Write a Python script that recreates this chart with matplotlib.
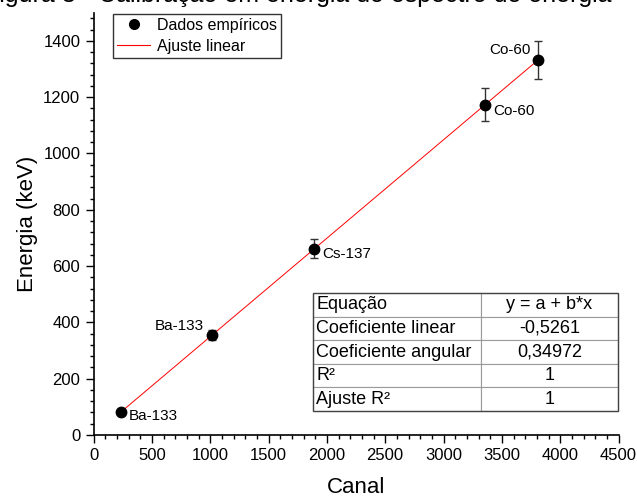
import numpy as np
import matplotlib.pyplot as plt
from matplotlib.lines import Line2D
from matplotlib.patches import Rectangle
from matplotlib.ticker import MultipleLocator

plt.rcParams["font.family"] = ["Liberation Sans", "DejaVu Sans"]

# data (channel vs energy)
fontes = ["Ba-133", "Ba-133", "Cs-137", "Co-60", "Co-60"]
canal = [233, 1019, 1894, 3356, 3810]
energia = [81, 356, 662, 1173, 1332]
erro = [4, 18, 33, 59, 67]

coef_linear = -0.5261
coef_angular = 0.34972

tabela = [
    ["Equação", "y = a + b*x"],
    ["Coeficiente linear", "-0,5261"],
    ["Coeficiente angular", "0,34972"],
    ["R²", "1"],
    ["Ajuste R²", "1"],
]

# label offsets in points (dx, dy, ha)
rotulos = [(6, -2.5, "left"), (-6, 6, "right"), (5.5, -4, "left"),
           (6, -4.5, "left"), (-5, 7, "right")]

fig = plt.figure(figsize=(6.37, 4.98), dpi=100)
ax = fig.add_axes([0.1468, 0.1265, 0.8242, 0.848])

# caption cut off at the top of the image (as in the original)
fig.text(-0.025, 0.995, "Figura 3 - Calibração em energia do espectro de energia",
         fontsize=18, ha="left", va="baseline", color="black")

x_fit = np.array([canal[0], canal[-1]])
y_fit = coef_linear + coef_angular * x_fit
ax.plot(x_fit, y_fit, color="#ff0000", linewidth=0.7, zorder=2)
ax.errorbar(canal, energia, yerr=erro, fmt="o", color="black", markersize=7.5,
            ecolor="#333333", elinewidth=1, capsize=3, capthick=1, zorder=3)

for xi, yi, nome, (dx, dy, ha) in zip(canal, energia, fontes, rotulos):
    ax.annotate(nome, (xi, yi), xytext=(dx, dy), textcoords="offset points",
                ha=ha, va="center", fontsize=11)

ax.set_xlim(0, 4500)
ax.set_ylim(0, 1500)
ax.xaxis.set_major_locator(MultipleLocator(500))
ax.xaxis.set_minor_locator(MultipleLocator(100))
ax.yaxis.set_major_locator(MultipleLocator(200))
ax.yaxis.set_minor_locator(MultipleLocator(40))
ax.tick_params(which="major", direction="out", length=6, width=1, labelsize=12)
ax.tick_params(which="minor", direction="out", length=3, width=1)
ax.spines["top"].set_visible(False)
ax.spines["right"].set_visible(False)
for s in ["left", "bottom"]:
    ax.spines[s].set_linewidth(1.2)

ax.set_xlabel("Canal", fontsize=16, labelpad=10)
ax.set_ylabel("Energia (keV)", fontsize=16, labelpad=4)

handles = [Line2D([], [], marker="o", color="black", linestyle="none", markersize=7),
           Line2D([], [], color="#ff0000", linewidth=0.8)]
leg = ax.legend(handles, ["Dados empíricos", "Ajuste linear"], loc="upper left",
                bbox_to_anchor=(0.037, 0.997), fontsize=11.5, frameon=True,
                fancybox=False, borderpad=0.25, handlelength=2.1,
                handletextpad=0.4, labelspacing=0.35, borderaxespad=0)
leg.get_frame().set_edgecolor("black")
leg.get_frame().set_linewidth(1)

# results table
tab = ax.table(cellText=tabela, colWidths=[0.551, 0.449],
               bbox=[0.418, 0.057, 0.581, 0.279], cellLoc="left")
tab.auto_set_font_size(False)
tab.set_fontsize(13)
for (r, c), cell in tab.get_celld().items():
    cell.set_edgecolor("#9a9a9a")
    cell.set_linewidth(0.8)
    cell.PAD = 0.02
    if c == 1:
        cell.get_text().set_ha("center")
        cell._loc = "center"
ax.add_patch(Rectangle((0.418, 0.057), 0.581, 0.279, transform=ax.transAxes,
                       fill=False, edgecolor="#444444", linewidth=1, zorder=10,
                       clip_on=False))

fig.savefig("out.png", dpi=100)
